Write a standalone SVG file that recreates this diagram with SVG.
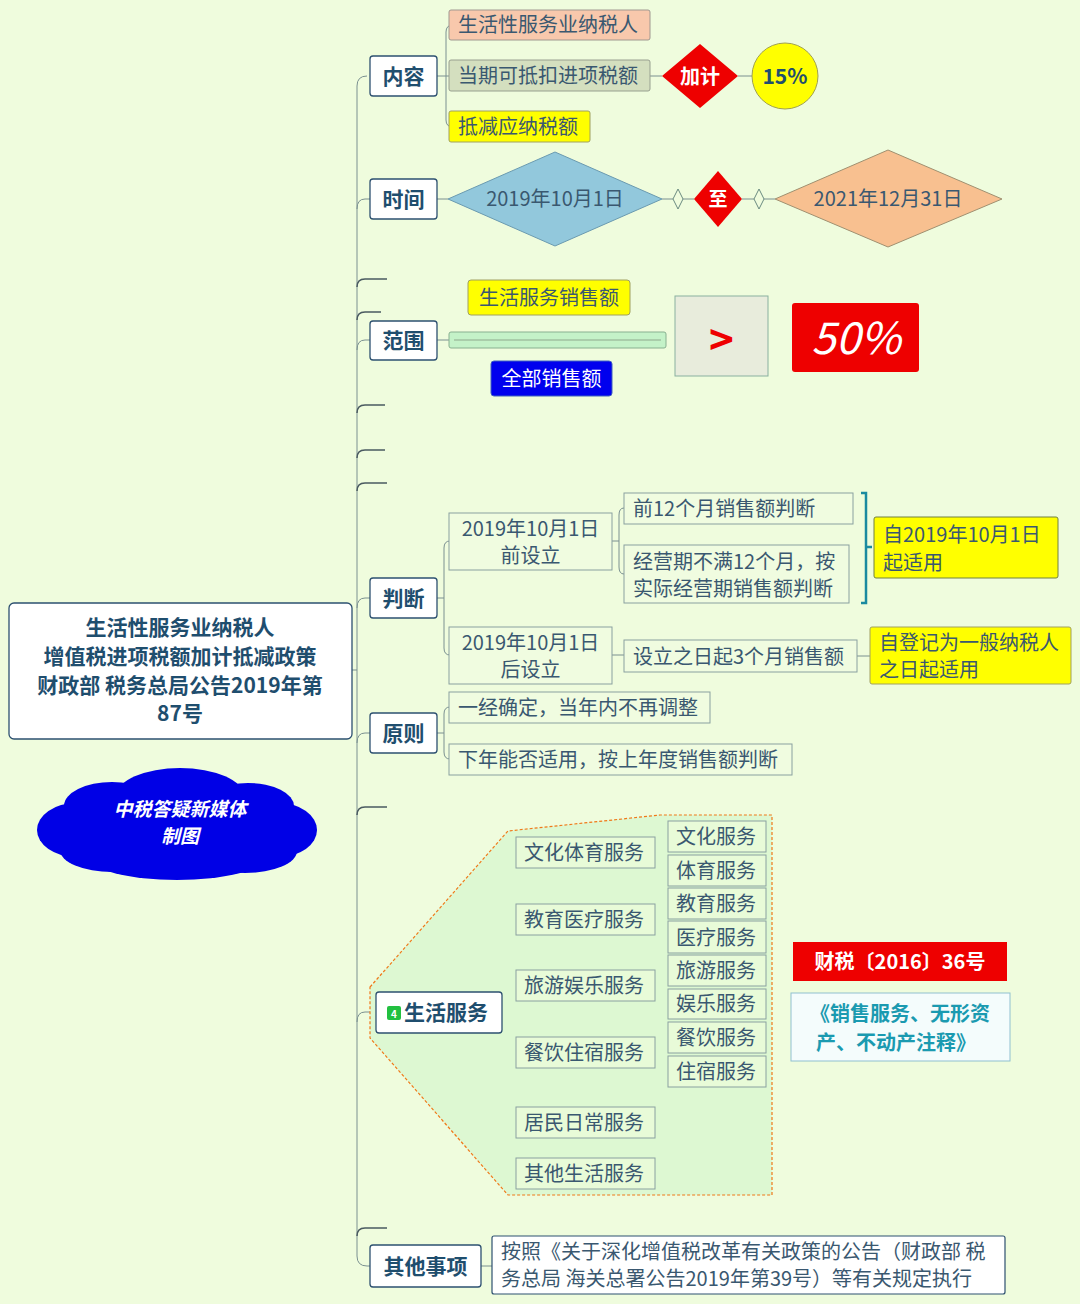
<svg xmlns="http://www.w3.org/2000/svg" width="1080" height="1304" viewBox="0 0 1080 1304">
<style>
text{font-family:"Noto Sans CJK SC","Liberation Sans",sans-serif;}
.t{font-size:20px;fill:#3a5870;}
.tb{font-size:21px;font-weight:bold;fill:#1f4e6e;}
.main{fill:#ffffff;stroke:#2d5070;stroke-width:1.3;}
.sub{fill:#f0fce0;stroke:#8aa0a0;stroke-width:1;}
.sub2{fill:#e8fbd8;stroke:#8aa0a0;stroke-width:1;}
.conn{fill:none;stroke:#7a9090;stroke-width:1;}
.stub{fill:none;stroke:#4a5a60;stroke-width:1.5;}
.w{fill:#ffffff;font-weight:bold;}
</style>
<rect width="1080" height="1304" fill="#effcdd"/>

<g id="connectors">
  <path class="conn" d="M352,670 H357"/>
  <path class="conn" d="M367,76 Q357,76 357,86 V1256 Q357,1266 367,1266 H370"/>
  <path class="conn" d="M357,209 Q357,199 365,199 H370"/>
  <path class="conn" d="M357,350 Q357,340 365,340 H370"/>
  <path class="conn" d="M357,608 Q357,598 365,598 H370"/>
  <path class="conn" d="M357,743 Q357,733 365,733 H370"/>
  <path class="conn" d="M357,1022 Q357,1012 365,1012 H376"/>
  <path class="stub" d="M357,287 Q357,279 365,279 H387"/>
  <path class="stub" d="M357,320 Q357,312 365,312 H381"/>
  <path class="stub" d="M357,413 Q357,405 365,405 H385"/>
  <path class="stub" d="M357,458 Q357,450 365,450 H385"/>
  <path class="stub" d="M357,491 Q357,483 365,483 H387"/>
  <path class="stub" d="M357,815 Q357,807 365,807 H387"/>
  <path class="stub" d="M357,1236 Q357,1228 365,1228 H387"/>
  <!-- 内容 -->
  <path class="conn" d="M437,76 H449 M453,25 Q446,25 446,32 V120 Q446,127 453,127 H449"/>
  <path class="conn" d="M650,76 H662 M738,76 H752"/>
  <!-- 时间 -->
  <path class="conn" d="M437,199 H448 M662,199 H673 M683,199 H694 M742,199 H754 M764,199 H775"/>
  <!-- 范围 -->
  <path class="conn" d="M437,340 H449"/>
  <!-- 判断 -->
  <path class="conn" d="M437,598 H444 M450,541 Q444,541 444,548 V648 Q444,655 450,655"/>
  <path class="conn" d="M612,541 H619 M624,508 Q619,508 619,515 V567 Q619,574 624,574"/>
  <path class="conn" d="M612,655 H624 M857,656 H870"/>
  <path d="M861,493 H866 V603 H861 M866,547 H872" fill="none" stroke="#1a8aa0" stroke-width="2.5"/>
  <!-- 原则 -->
  <path class="conn" d="M437,733 H444 M450,707 Q444,707 444,714 V752 Q444,759 450,759"/>
  <!-- 生活服务 -->
  <path class="conn" d="M502,1012 H511 M516,853 Q511,853 511,860 V1167 Q511,1174 516,1174 M511,920 H516 M511,986 H516 M511,1052 H516 M511,1122 H516"/>
  <path class="conn" d="M655,853 H663 M668,837 Q663,837 663,842 V866 Q663,871 668,871"/>
  <path class="conn" d="M655,920 H663 M668,904 Q663,904 663,909 V932 Q663,937 668,937"/>
  <path class="conn" d="M655,986 H663 M668,971 Q663,971 663,976 V999 Q663,1004 668,1004"/>
  <path class="conn" d="M655,1052 H663 M668,1037 Q663,1037 663,1042 V1066 Q663,1071 668,1071"/>
  <!-- 其他事项 -->
  <path class="conn" d="M481,1266 H492"/>
</g>

<g id="root">
  <rect x="9" y="603" width="343" height="136" rx="5" class="main"/>
  <text x="180" y="635" text-anchor="middle" class="tb">生活性服务业纳税人</text>
  <text x="180" y="664" text-anchor="middle" class="tb">增值税进项税额加计抵减政策</text>
  <text x="180" y="693" text-anchor="middle" class="tb">财政部 税务总局公告2019年第</text>
  <text x="180" y="721" text-anchor="middle" class="tb">87号</text>
</g>

<g id="cloud" fill="#0000e6">
  <ellipse cx="177" cy="824" rx="112" ry="40"/>
  <ellipse cx="76" cy="830" rx="39" ry="27"/>
  <ellipse cx="279" cy="830" rx="38" ry="27"/>
  <ellipse cx="180" cy="796" rx="64" ry="28"/>
  <ellipse cx="112" cy="806" rx="48" ry="24"/>
  <ellipse cx="248" cy="806" rx="46" ry="23"/>
  <ellipse cx="177" cy="857" rx="88" ry="23"/>
  <ellipse cx="112" cy="850" rx="52" ry="22"/>
  <ellipse cx="245" cy="851" rx="52" ry="22"/>
  <text x="180" y="816" text-anchor="middle" font-size="19" font-weight="bold" font-style="italic" fill="#ffffff">中税答疑新媒体</text>
  <text x="180" y="843" text-anchor="middle" font-size="19" font-weight="bold" font-style="italic" fill="#ffffff">制图</text>
</g>

<g id="n-neirong">
  <rect x="370" y="56" width="67" height="40" rx="3" class="main"/>
  <text x="403.5" y="84" text-anchor="middle" class="tb">内容</text>
</g>
<g id="n-shxfwy">
  <rect x="449" y="10" width="201" height="30" rx="2" fill="#f8c8ac" stroke="#a09890"/>
  <text x="458" y="32" class="t">生活性服务业纳税人</text>
</g>
<g id="n-dangqi">
  <rect x="449" y="60" width="201" height="31" rx="2" fill="#d4dfbf" stroke="#98a090"/>
  <text x="458" y="83" class="t">当期可抵扣进项税额</text>
</g>
<g id="n-dijian">
  <rect x="449" y="111" width="141" height="31" rx="2" fill="#ffff00" stroke="#a0a060"/>
  <text x="458" y="134" class="t">抵减应纳税额</text>
</g>
<g id="n-jiaji">
  <polygon points="700,44 738,76 700,108 662,76" fill="#ee0000"/>
  <text x="700" y="84" text-anchor="middle" font-size="20" class="w">加计</text>
</g>
<g id="n-15">
  <circle cx="785" cy="76" r="33" fill="#ffff00" stroke="#a0a050"/>
  <text x="785" y="84" text-anchor="middle" class="tb">15%</text>
</g>

<g id="n-shijian">
  <rect x="370" y="179" width="67" height="40" rx="3" class="main"/>
  <text x="403.5" y="207" text-anchor="middle" class="tb">时间</text>
</g>
<g id="n-start">
  <polygon points="555,152 662,199 555,246 448,199" fill="#92c8dc" stroke="#6a9ab0"/>
  <text x="555" y="206" text-anchor="middle" class="t" fill="#2d5070">2019年10月1日</text>
</g>
<g id="n-d1"><polygon points="678,189 683,199 678,209 673,199" fill="#effcdd" stroke="#6a8a80"/></g>
<g id="n-zhi">
  <polygon points="718,171 742,199 718,227 694,199" fill="#ee0000"/>
  <text x="718" y="206" text-anchor="middle" font-size="19" class="w">至</text>
</g>
<g id="n-d2"><polygon points="759,189 764,199 759,209 754,199" fill="#effcdd" stroke="#6a8a80"/></g>
<g id="n-end">
  <polygon points="888,150 1002,199 888,247 775,199" fill="#f8c090" stroke="#a09070"/>
  <text x="888" y="206" text-anchor="middle" class="t">2021年12月31日</text>
</g>

<g id="n-fanwei">
  <rect x="370" y="321" width="67" height="39" rx="3" class="main"/>
  <text x="403.5" y="348" text-anchor="middle" class="tb">范围</text>
</g>
<g id="n-shfwxse">
  <rect x="468" y="280" width="162" height="35" rx="3" fill="#ffff00" stroke="#a0a060"/>
  <text x="549" y="305" text-anchor="middle" class="t">生活服务销售额</text>
</g>
<g id="n-bar">
  <rect x="449" y="332" width="217" height="16" rx="2" fill="#c4f2c8" stroke="#88b090"/>
  <line x1="454" y1="340" x2="661" y2="340" stroke="#a0c0a0" stroke-width="1.5"/>
</g>
<g id="n-quanbu">
  <rect x="491" y="361" width="121" height="35" rx="3" fill="#0000ee" stroke="#4060c0"/>
  <text x="551.5" y="386" text-anchor="middle" font-size="20" fill="#ffffff">全部销售额</text>
</g>
<g id="n-gt">
  <rect x="675" y="296" width="93" height="80" fill="#e8ecdc" stroke="#8ab0a0"/>
  <text x="721.5" y="355" text-anchor="middle" font-size="42" font-weight="bold" fill="#ee0000">&gt;</text>
</g>
<g id="n-50">
  <rect x="792" y="303" width="127" height="69" rx="3" fill="#ee0000"/>
  <text x="856" y="354" text-anchor="middle" font-size="44" font-style="italic" fill="#ffffff">50%</text>
</g>

<g id="n-panduan">
  <rect x="370" y="578" width="67" height="40" rx="3" class="main"/>
  <text x="403.5" y="606" text-anchor="middle" class="tb">判断</text>
</g>
<g id="n-qian">
  <rect x="449" y="513" width="163" height="57" class="sub"/>
  <text x="530.5" y="536" text-anchor="middle" class="t">2019年10月1日</text>
  <text x="530.5" y="563" text-anchor="middle" class="t">前设立</text>
</g>
<g id="n-q12">
  <rect x="624" y="493" width="229" height="31" class="sub"/>
  <text x="633" y="516" class="t">前12个月销售额判断</text>
</g>
<g id="n-bm12">
  <rect x="624" y="545" width="225" height="58" class="sub"/>
  <text x="633" y="569" class="t">经营期不满12个月，按</text>
  <text x="633" y="596" class="t">实际经营期销售额判断</text>
</g>
<g id="n-zi2019">
  <rect x="874" y="517" width="184" height="61" rx="2" fill="#ffff00" stroke="#708040"/>
  <text x="883" y="542" class="t" font-size="19">自2019年10月1日</text>
  <text x="883" y="570" class="t" font-size="19">起适用</text>
</g>
<g id="n-hou">
  <rect x="449" y="627" width="163" height="57" class="sub"/>
  <text x="530.5" y="650" text-anchor="middle" class="t">2019年10月1日</text>
  <text x="530.5" y="677" text-anchor="middle" class="t">后设立</text>
</g>
<g id="n-3m">
  <rect x="624" y="640" width="233" height="32" class="sub"/>
  <text x="633" y="664" class="t">设立之日起3个月销售额</text>
</g>
<g id="n-dengji">
  <rect x="870" y="627" width="201" height="57" rx="2" fill="#ffff00" stroke="#a0a060"/>
  <text x="879" y="650" class="t">自登记为一般纳税人</text>
  <text x="879" y="677" class="t">之日起适用</text>
</g>

<g id="n-yuanze">
  <rect x="370" y="713" width="67" height="40" rx="3" class="main"/>
  <text x="403.5" y="741" text-anchor="middle" class="tb">原则</text>
</g>
<g id="n-yijing">
  <rect x="449" y="692" width="261" height="31" class="sub"/>
  <text x="458" y="715" class="t">一经确定，当年内不再调整</text>
</g>
<g id="n-xianian">
  <rect x="449" y="744" width="343" height="31" class="sub"/>
  <text x="458" y="767" class="t">下年能否适用，按上年度销售额判断</text>
</g>

<g id="boundary">
  <polygon points="370,987 508,831 660,815 772,815 772,1195 508,1195 370,1038" fill="#ddf8d2" stroke="#f07818" stroke-width="1.2" stroke-dasharray="3,2"/>
</g>
<g id="n-shfw">
  <rect x="376" y="992" width="126" height="41" rx="3" class="main"/>
  <rect x="387" y="1006" width="14" height="14" rx="2" fill="#22c040"/>
  <text x="394" y="1018" text-anchor="middle" font-size="10" fill="#ffffff" font-weight="bold">4</text>
  <text x="404" y="1020" font-size="21" font-weight="bold" fill="#1f4e6e">生活服务</text>
</g>
<g id="n-wenti"><rect x="516" y="837" width="139" height="31" class="sub2"/><text x="524" y="860" class="t">文化体育服务</text></g>
<g id="n-jiaoyi"><rect x="516" y="904" width="139" height="31" class="sub2"/><text x="524" y="927" class="t">教育医疗服务</text></g>
<g id="n-lvyu"><rect x="516" y="970" width="139" height="31" class="sub2"/><text x="524" y="993" class="t">旅游娱乐服务</text></g>
<g id="n-canzhu"><rect x="516" y="1037" width="139" height="31" class="sub2"/><text x="524" y="1060" class="t">餐饮住宿服务</text></g>
<g id="n-jumin"><rect x="516" y="1107" width="139" height="31" class="sub2"/><text x="524" y="1130" class="t">居民日常服务</text></g>
<g id="n-qita"><rect x="516" y="1158" width="139" height="31" class="sub2"/><text x="524" y="1181" class="t">其他生活服务</text></g>
<g id="n-wh"><rect x="668" y="821" width="98" height="31" class="sub2"/><text x="676" y="844" class="t">文化服务</text></g>
<g id="n-ty"><rect x="668" y="855" width="98" height="31" class="sub2"/><text x="676" y="878" class="t">体育服务</text></g>
<g id="n-jy"><rect x="668" y="888" width="98" height="31" class="sub2"/><text x="676" y="911" class="t">教育服务</text></g>
<g id="n-yl"><rect x="668" y="921" width="98" height="32" class="sub2"/><text x="676" y="945" class="t">医疗服务</text></g>
<g id="n-ly"><rect x="668" y="955" width="98" height="31" class="sub2"/><text x="676" y="978" class="t">旅游服务</text></g>
<g id="n-yule"><rect x="668" y="989" width="98" height="30" class="sub2"/><text x="676" y="1011" class="t">娱乐服务</text></g>
<g id="n-cy"><rect x="668" y="1022" width="98" height="31" class="sub2"/><text x="676" y="1045" class="t">餐饮服务</text></g>
<g id="n-zs"><rect x="668" y="1056" width="98" height="31" class="sub2"/><text x="676" y="1079" class="t">住宿服务</text></g>

<g id="n-caishui">
  <rect x="793" y="942" width="214" height="39" fill="#ee0000"/>
  <text x="900" y="969" text-anchor="middle" font-size="20" class="w">财税〔2016〕36号</text>
</g>
<g id="n-zhushi">
  <rect x="791" y="993" width="219" height="68" fill="#f4fcfc" stroke="#90c0d0"/>
  <text x="900" y="1021" text-anchor="middle" font-size="20" font-weight="bold" fill="#1a9ab0">《销售服务、无形资</text>
  <text x="896" y="1050" text-anchor="middle" font-size="20" font-weight="bold" fill="#1a9ab0">产、不动产注释》</text>
</g>

<g id="n-qitashixiang">
  <rect x="370" y="1245" width="111" height="42" rx="3" class="main"/>
  <text x="425.5" y="1274" text-anchor="middle" class="tb">其他事项</text>
</g>
<g id="n-anzhao">
  <rect x="492" y="1236" width="513" height="58" rx="2" fill="#ffffff" stroke="#2d5070" stroke-width="1.2"/>
  <text x="501" y="1259" class="t" font-size="19">按照《关于深化增值税改革有关政策的公告（财政部 税</text>
  <text x="501" y="1286" class="t" font-size="19">务总局 海关总署公告2019年第39号）等有关规定执行</text>
</g>
</svg>
